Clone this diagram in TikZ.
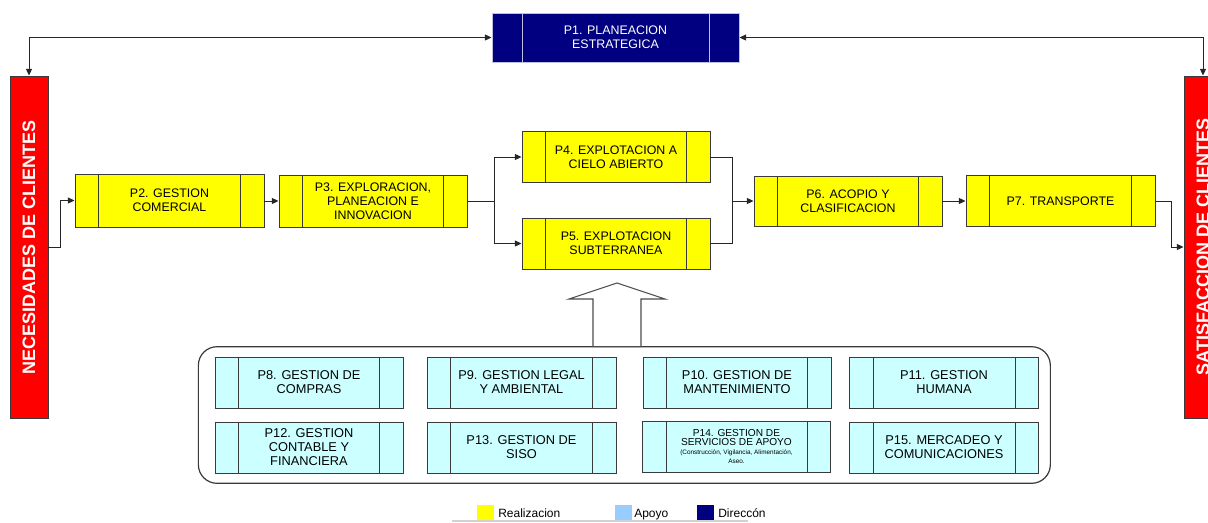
\documentclass[tikz,border=0pt]{standalone}
\usepackage{fontspec}
\usepackage{graphicx}
\setmainfont{Liberation Sans}
\usetikzlibrary{arrows.meta}
\definecolor{yel}{HTML}{FFFF00}
\definecolor{supc}{HTML}{CCFFFF}
\definecolor{navyc}{HTML}{000080}
\definecolor{redb}{HTML}{FF0000}
\definecolor{lblue}{HTML}{99CCFF}
\definecolor{edge}{HTML}{3A3A3A}
\begin{document}
\begin{tikzpicture}[x=0.75pt,y=-0.75pt,
  proc/.style 2 args={draw=edge, line width=0.7pt, rectangle, inner sep=0pt,
    minimum width=#1*0.75pt, minimum height=#2*0.75pt, align=center,
    path picture={\draw[edge, line width=0.7pt]
      ([xshift=17.6pt]path picture bounding box.north west) -- ([xshift=17.6pt]path picture bounding box.south west)
      ([xshift=-17.6pt]path picture bounding box.north east) -- ([xshift=-17.6pt]path picture bounding box.south east);}},
  mainbox/.style={fill=yel, font=\fontsize{9.3}{10.5}\selectfont},
  supbox/.style={fill=supc, font=\fontsize{9.6}{10.5}\selectfont},
  dirbox/.style 2 args={draw=white!75!navyc, line width=0.7pt, rectangle, inner sep=0pt, fill=navyc, text=white,
    minimum width=#1*0.75pt, minimum height=#2*0.75pt, align=center, font=\fontsize{9.3}{10.5}\selectfont,
    path picture={\draw[white!75!navyc, line width=0.7pt]
      ([xshift=22.5pt]path picture bounding box.north west) -- ([xshift=22.5pt]path picture bounding box.south west)
      ([xshift=-22.5pt]path picture bounding box.north east) -- ([xshift=-22.5pt]path picture bounding box.south east);}},
  redbar/.style 2 args={draw=edge, line width=0.7pt, fill=redb, text=white, inner sep=0pt,
    minimum width=#1*0.75pt, minimum height=#2*0.75pt, font=\bfseries\fontsize{13.5}{16}\selectfont},
  arr/.style={draw=black!85, line width=0.7pt, -{Triangle[length=5pt,width=4.5pt]}},
  darr/.style={draw=black!85, line width=0.7pt, {Triangle[length=5pt,width=4.5pt]}-{Triangle[length=5pt,width=4.5pt]}},
  lin/.style={draw=black!85, line width=0.7pt},
  swatch/.style={inner sep=0pt, minimum width=17*0.75pt, minimum height=15*0.75pt},
  legtext/.style={anchor=base west, inner sep=0pt, font=\fontsize{9}{10}\selectfont}
]
\useasboundingbox (0,0) rectangle (1208,522);
\fill[white] (0,0) rectangle (1208,522);

% red bars
\node[redbar={38}{342}] (NEC) at (29,247) {\rotatebox{90}{NECESIDADES DE CLIENTES}};
\node[redbar={38}{342}] (SAT) at (1203,247) {\rotatebox{90}{SATISFACCION DE CLIENTES}};

% direction
\node[dirbox={247}{49}] (P1) at (615.5,37.5) {P1. PLANEACION\\ESTRATEGICA};

% main row
\node[proc={189}{53}, mainbox] (P2) at (169.5,200.5) {P2. GESTION\\COMERCIAL};
\node[proc={188}{52}, mainbox] (P3) at (373,201) {P3. EXPLORACION,\\PLANEACION E\\INNOVACION};
\node[proc={188}{51}, mainbox] (P4) at (616,157) {P4. EXPLOTACION A\\CIELO ABIERTO};
\node[proc={188}{51}, mainbox] (P5) at (616,243.5) {P5. EXPLOTACION\\SUBTERRANEA};
\node[proc={188}{50}, mainbox] (P6) at (848,201) {P6. ACOPIO Y\\CLASIFICACION};
\node[proc={189}{51}, mainbox] (P7) at (1060.5,201) {P7. TRANSPORTE};

% support container
\node[draw=edge, line width=0.9pt, rounded corners=14pt, minimum width=852*0.75pt, minimum height=136.6*0.75pt, inner sep=0pt] (CONT) at (624.35,415) {};
\draw[draw=black!70, line width=0.8pt, fill=white] (617,283) -- (665,299) -- (641,299) -- (641,346.7) -- (593,346.7) -- (593,299) -- (569,299) -- cycle;

\node[proc={188}{51}, supbox] (P8) at (309,382.5) {P8. GESTION DE\\COMPRAS};
\node[proc={189}{51}, supbox] (P9) at (521.5,382.5) {P9. GESTION LEGAL\\Y AMBIENTAL};
\node[proc={188}{51}, supbox] (P10) at (737,382.5) {P10. GESTION DE\\MANTENIMIENTO};
\node[proc={189}{51}, supbox] (P11) at (944,382.5) {P11. GESTION\\HUMANA};
\node[proc={188}{51}, supbox] (P12) at (309,447.5) {P12. GESTION\\CONTABLE Y\\FINANCIERA};
\node[proc={189}{51}, supbox] (P13) at (521.5,447.5) {P13. GESTION DE\\SISO};
\node[proc={188}{51}, supbox, font=\fontsize{7.6}{6.6}\selectfont] (P14) at (736.5,446.5)
  {P14. GESTION DE\\SERVICIOS DE APOYO\\\fontsize{4.8}{5.6}\selectfont(Construcción, Vigilancia, Alimentación,\\\fontsize{4.8}{5.6}\selectfont Aseo.};
\node[proc={189}{51}, supbox] (P15) at (944,447.5) {P15. MERCADEO Y\\COMUNICACIONES};

% connectors
\coordinate (k1) at (60.5,247);
\coordinate (j1) at (494.5,201);
\coordinate (j2) at (732.6,201);
\coordinate (k2) at (1171,247);
\draw[darr] (NEC.north) |- (P1.west);
\draw[darr] (SAT.north) |- (P1.east);
\draw[arr] (NEC.east) -- (k1) |- (P2.west);
\draw[arr] (P2.east |- P3.west) -- (P3.west);
\draw[lin] (P3.east) -- (j1);
\draw[arr] (j1) |- (P4.west);
\draw[arr] (j1) |- (P5.west);
\draw[lin] (P4.east) -| (j2);
\draw[lin] (P5.east) -| (j2);
\draw[arr] (j2) -- (P6.west);
\draw[arr] (P6.east) -- (P7.west);
\draw[arr] (P7.east) -| (k2) -- (SAT.west);

% legend
\draw[gray!35, line width=1.5pt] (452,521) -- (748,521);
\node[swatch, fill=yel] (L1) at (485.5,512.5) {};
\node[legtext] (T1) at (498,517) {Realizacion};
\node[swatch, fill=lblue] (L2) at (623,512.5) {};
\node[legtext] (T2) at (634,517) {Apoyo};
\node[swatch, fill=navyc] (L3) at (705.5,512.5) {};
\node[legtext] (T3) at (718,517) {Direccón};
\end{tikzpicture}
\end{document}
